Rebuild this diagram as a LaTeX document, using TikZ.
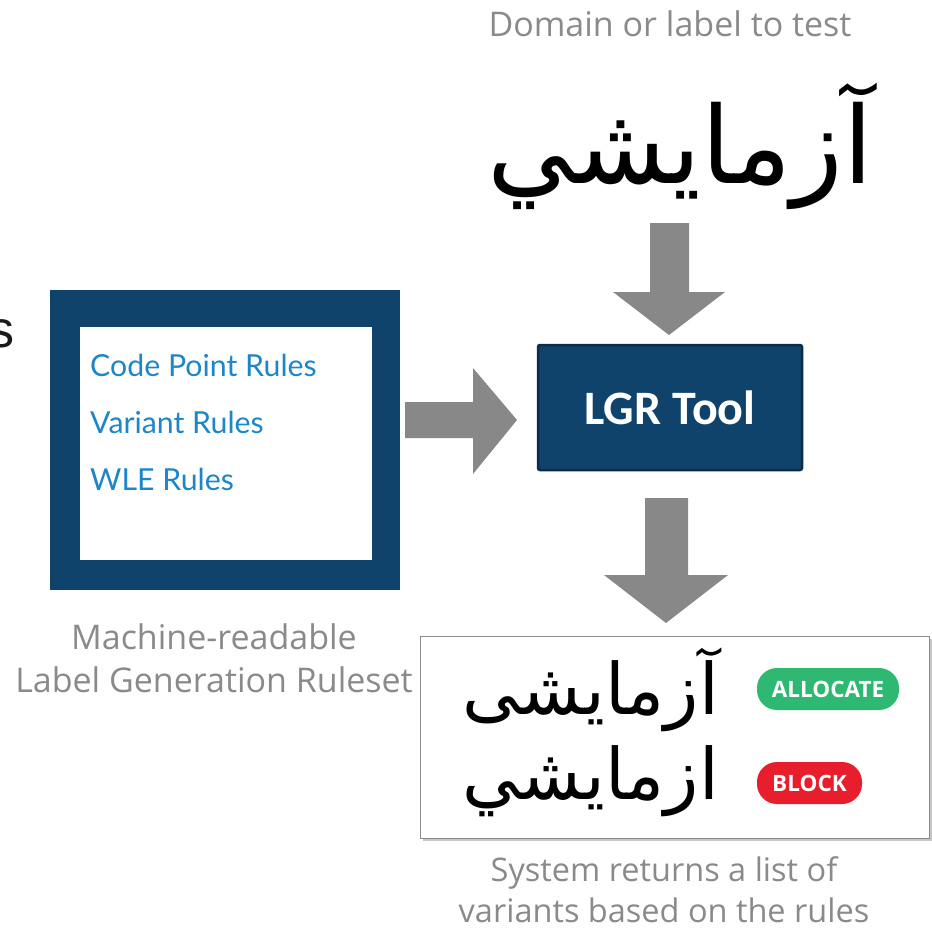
\documentclass[tikz,border=0pt]{standalone}
\usepackage{fontspec}
\setmainfont{Open Sans}
\newfontfamily\arabicfont[Script=Arabic]{DejaVu Sans}
\newfontfamily\rulefont{Lato}
\newfontfamily\toolfont{Carlito}
\newfontfamily\arialfont{Liberation Sans}
\TeXXeTstate=1
\usetikzlibrary{shadows}
\definecolor{navy}{HTML}{10436B}
\definecolor{navyedge}{HTML}{0A2C4A}
\definecolor{arrowgray}{HTML}{888888}
\definecolor{captiongray}{HTML}{8A8A8A}
\definecolor{ruleblue}{HTML}{1C86C8}
\definecolor{okgreen}{HTML}{2EB872}
\definecolor{badred}{HTML}{E81E2C}
\tikzset{
  caption/.style={text=captiongray, font=\fontsize{34}{43}\selectfont, align=center, inner sep=0},
  smallcaption/.style={text=captiongray, font=\fontsize{32.5}{41}\selectfont, align=center, inner sep=0},
  rulelabel/.style={text=ruleblue, font=\rulefont\fontsize{30.3}{34}\selectfont, anchor=base west, inner sep=0},
  arabword/.style={font=\arabicfont\fontsize{#1}{#1}\selectfont, inner sep=0, text=black},
  pill/.style={fill=#1, rounded corners=20pt, text=white, font=\bfseries\fontsize{22.5}{22.5}\selectfont, inner sep=0},
  blockarrow/.style={fill=arrowgray, draw=none}
}
\begin{document}
\begin{tikzpicture}[x=1pt,y=-1pt]
\useasboundingbox (0,0) rectangle (932,930);
% top caption and input word
\node[caption] (domain) at (670,24) {Domain or label to test};
\node[arabword=107] (input) at (680,146) {\beginR آزمايشي\endR};
% cropped letter at left edge
\node[font=\arialfont\fontsize{52}{52}\selectfont, text=black!90, anchor=base west, inner sep=0] (sletter) at (-12,347) {s};
% ruleset box
\fill[navy] (50,290) rectangle (400,590);
\fill[white] (80,327) rectangle (372,560);
\coordinate (ruleset) at (225,440);
\node[rulelabel] (cpr) at (90,376) {Code Point Rules};
\node[rulelabel] (vr) at (90,433) {Variant Rules};
\node[rulelabel] (wle) at (90,490) {WLE Rules};
\node[caption] (lgrcap) at (214,658) {Machine-readable\\Label Generation Ruleset};
% LGR tool
\node[fill=navy, draw=navyedge, line width=2.5pt, rounded corners=2pt, minimum width=264, minimum height=125, text=white, font=\toolfont\bfseries\fontsize{48}{48}\selectfont] (tool) at (670,407.5) {LGR Tool};
% arrows
\fill[blockarrow] (650,223) -- (689,223) -- (689,292) -- (725,292) -- (669,335) -- (613,292) -- (650,292) -- cycle;
\fill[blockarrow] (405,402) -- (473,402) -- (473,368) -- (517,420) -- (473,474) -- (473,438) -- (405,438) -- cycle;
\fill[blockarrow] (645,498) -- (688,498) -- (688,575) -- (728,575) -- (666,623) -- (604,575) -- (645,575) -- cycle;
% result box
\node[draw=black!45, line width=1pt, fill=white, drop shadow={shadow xshift=2pt, shadow yshift=-3pt, opacity=0.45}, minimum width=509, minimum height=202, inner sep=0] (result) at (675,737) {};
\node[arabword=71, anchor=east] (okword) at (719,690) {\beginR آزمايشى\endR};
\node[arabword=71, anchor=east] (badword) at (719,781) {\beginR ازمايشي\endR};
\node[pill=okgreen, minimum width=142, minimum height=42] (allocate) at (828,689) {ALLOCATE};
\node[pill=badred, minimum width=105, minimum height=42] (block) at (809.5,783) {BLOCK};
\node[smallcaption] (syscap) at (664,890) {System returns a list of\\variants based on the rules};
\end{tikzpicture}
\end{document}
